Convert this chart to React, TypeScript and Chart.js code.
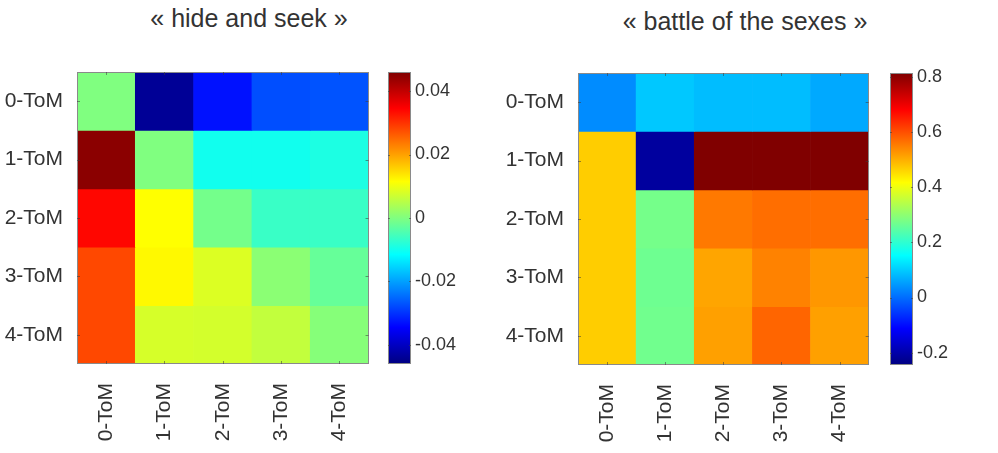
import React, { useEffect, useRef } from 'react';
import { Chart, registerables } from 'chart.js';

Chart.register(...registerables);

// ---------- data ----------
const tomLabels = ['0-ToM', '1-ToM', '2-ToM', '3-ToM', '4-ToM'];

// « hide and seek » : rows = 0-ToM..4-ToM (top to bottom), columns = 0-ToM..4-ToM
const hideSeekRow0 = [0.0, -0.044, -0.033, -0.0275, -0.027];
const hideSeekRow1 = [0.045, 0.0, -0.010, -0.010, -0.009];
const hideSeekRow2 = [0.034, 0.0115, -0.001, -0.0064, -0.0064];
const hideSeekRow3 = [0.028, 0.012, 0.0083, 0.001, -0.0023];
const hideSeekRow4 = [0.028, 0.0078, 0.0075, 0.006, 0.0006];
const hideSeekRows = [hideSeekRow0, hideSeekRow1, hideSeekRow2, hideSeekRow3, hideSeekRow4];
const hideSeekRange = [-0.046, 0.046];
const hideSeekTicks = [-0.04, -0.02, 0, 0.02, 0.04];

// « battle of the sexes »
const battleRow0 = [0.033, 0.095, 0.084, 0.084, 0.063];
const battleRow1 = [0.469, -0.213, 0.815, 0.815, 0.815];
const battleRow2 = [0.469, 0.274, 0.557, 0.568, 0.568];
const battleRow3 = [0.469, 0.267, 0.511, 0.547, 0.526];
const battleRow4 = [0.469, 0.27, 0.516, 0.578, 0.516];
const battleRows = [battleRow0, battleRow1, battleRow2, battleRow3, battleRow4];
const battleRange = [-0.245, 0.815];
const battleTicks = [-0.2, 0, 0.2, 0.4, 0.6, 0.8];

// ---------- helpers ----------
const FONT = "'Liberation Sans', Arial, Helvetica, sans-serif";
const TEXT = '#333333';
const FRAME = '#8a8a8a';

const clamp01 = (v: number) => Math.max(0, Math.min(1, v));
function jet(t: number): string {
  t = clamp01(t);
  const r = clamp01(1.5 - Math.abs(4 * t - 3));
  const g = clamp01(1.5 - Math.abs(4 * t - 2));
  const b = clamp01(1.5 - Math.abs(4 * t - 1));
  return `rgb(${Math.round(r * 255)},${Math.round(g * 255)},${Math.round(b * 255)})`;
}

function fmtTick(v: number, decimals: number): string {
  const n = parseFloat(v.toFixed(decimals));
  return n === 0 ? '0' : String(n);
}

type Area = { l: number; t: number; r: number; b: number };

function framePlugin(kind: 'heat' | 'bar', tickVals?: number[]) {
  return {
    id: 'frame-' + kind,
    afterDatasetsDraw(chart: any) {
      const { ctx, chartArea } = chart;
      const { left, top, right, bottom } = chartArea;
      ctx.save();
      ctx.strokeStyle = FRAME;
      ctx.lineWidth = 1;
      ctx.strokeRect(Math.round(left) + 0.5, Math.round(top) + 0.5, Math.round(right - left) - 1, Math.round(bottom - top) - 1);
      ctx.strokeStyle = 'rgba(60,60,60,0.55)';
      ctx.beginPath();
      const len = 3;
      if (kind === 'heat') {
        const xs = chart.scales.x;
        const ys = chart.scales.y;
        tomLabels.forEach((_, i) => {
          const px = Math.round(xs.getPixelForTick(i)) + 0.5;
          ctx.moveTo(px, top); ctx.lineTo(px, top + len);
          ctx.moveTo(px, bottom); ctx.lineTo(px, bottom - len);
          const py = Math.round(ys.getPixelForValue(i)) + 0.5;
          ctx.moveTo(left, py); ctx.lineTo(left + len, py);
          ctx.moveTo(right, py); ctx.lineTo(right - len, py);
        });
      } else if (tickVals) {
        const ys = chart.scales.y;
        tickVals.forEach((v) => {
          const py = Math.round(ys.getPixelForValue(v)) + 0.5;
          ctx.moveTo(left, py); ctx.lineTo(left + 2, py);
          ctx.moveTo(right, py); ctx.lineTo(right - 2, py);
        });
      }
      ctx.stroke();
      ctx.restore();
    },
  };
}

function HeatCanvas(props: { rows: number[][]; range: number[]; width: number; height: number; area: Area; left: number }) {
  const ref = useRef<HTMLCanvasElement>(null);
  useEffect(() => {
    const { rows, range, width, height, area } = props;
    const [mn, mx] = range;
    const chart = new Chart(ref.current as HTMLCanvasElement, {
      type: 'bar',
      data: {
        labels: tomLabels,
        datasets: rows.map((row, r) => ({
          label: tomLabels[r],
          data: row.map(() => [r - 0.5, r + 0.5]),
          backgroundColor: row.map((v) => jet((v - mn) / (mx - mn))),
          borderWidth: 0,
          barPercentage: 1,
          categoryPercentage: 1,
          grouped: false,
        })) as any,
      },
      options: {
        responsive: false,
        animation: false,
        events: [],
        layout: { padding: { left: 0, top: area.t, right: width - area.r, bottom: 0 } },
        plugins: { legend: { display: false }, tooltip: { enabled: false }, title: { display: false } },
        scales: {
          x: {
            type: 'category',
            grid: { display: false, drawTicks: false },
            border: { display: false },
            ticks: {
              autoSkip: false,
              minRotation: 90,
              maxRotation: 90,
              padding: 19,
              color: TEXT,
              font: { family: FONT, size: 21 },
            },
            afterFit: (s: any) => { s.height = height - area.b; },
          },
          y: {
            type: 'linear',
            min: -0.5,
            max: tomLabels.length - 0.5,
            reverse: true,
            grid: { display: false, drawTicks: false },
            border: { display: false },
            afterBuildTicks: (s: any) => { s.ticks = tomLabels.map((_, i) => ({ value: i })); },
            ticks: {
              padding: 14,
              color: TEXT,
              font: { family: FONT, size: 21 },
              callback: (v: any) => tomLabels[Number(v)] ?? '',
            },
            afterFit: (s: any) => { s.width = area.l; },
          },
        },
      } as any,
      plugins: [framePlugin('heat')],
    });
    return () => chart.destroy();
  }, []);
  return (
    <canvas
      ref={ref}
      width={props.width}
      height={props.height}
      style={{ position: 'absolute', left: props.left, top: 0, width: props.width, height: props.height }}
    />
  );
}

function ColorBarCanvas(props: { range: number[]; ticks: number[]; decimals: number; width: number; height: number; area: Area; left: number }) {
  const ref = useRef<HTMLCanvasElement>(null);
  useEffect(() => {
    const { range, ticks, decimals, width, height, area } = props;
    const [mn, mx] = range;
    const chart = new Chart(ref.current as HTMLCanvasElement, {
      type: 'bar',
      data: {
        labels: [''],
        datasets: [
          {
            data: [[mn, mx]],
            backgroundColor: (c: any) => {
              const ch = c.chart;
              if (!ch.chartArea) return '#888';
              const ys = ch.scales.y;
              const y0 = ys.getPixelForValue(mn);
              const y1 = ys.getPixelForValue(mx);
              const g = ch.ctx.createLinearGradient(0, y0, 0, y1);
              const n = 64;
              for (let i = 0; i <= n; i++) g.addColorStop(i / n, jet(i / n));
              return g;
            },
            borderWidth: 0,
            barPercentage: 1,
            categoryPercentage: 1,
          },
        ] as any,
      },
      options: {
        responsive: false,
        animation: false,
        events: [],
        layout: { padding: { left: area.l, top: area.t, right: 0, bottom: height - area.b } },
        plugins: { legend: { display: false }, tooltip: { enabled: false } },
        scales: {
          x: { display: false },
          y: {
            type: 'linear',
            position: 'right',
            min: mn,
            max: mx,
            grid: { display: false, drawTicks: false },
            border: { display: false },
            afterBuildTicks: (s: any) => { s.ticks = ticks.map((v) => ({ value: v })); },
            ticks: {
              padding: 4,
              color: TEXT,
              font: { family: FONT, size: 18 },
              callback: (v: any) => fmtTick(Number(v), decimals),
            },
            afterFit: (s: any) => { s.width = width - area.r; },
          },
        },
      } as any,
      plugins: [framePlugin('bar', ticks)],
    });
    return () => chart.destroy();
  }, []);
  return (
    <canvas
      ref={ref}
      width={props.width}
      height={props.height}
      style={{ position: 'absolute', left: props.left, top: 0, width: props.width, height: props.height }}
    />
  );
}

export default function App() {
  const H = 453;
  const titleStyle = (center: number, top: number): React.CSSProperties => ({
    position: 'absolute',
    left: center - 200,
    width: 400,
    top,
    textAlign: 'center',
    fontFamily: FONT,
    fontSize: 25,
    lineHeight: '25px',
    color: TEXT,
    whiteSpace: 'nowrap',
  });
  return (
    <div style={{ position: 'absolute', left: 0, top: 0, width: 998, height: H, background: '#fff', overflow: 'hidden' }}>
      <div style={titleStyle(249, 6)}>« hide and seek »</div>
      <div style={titleStyle(745, 9)}>« battle of the sexes »</div>
      <HeatCanvas rows={hideSeekRows} range={hideSeekRange} width={385} height={H} left={0} area={{ l: 77, t: 72, r: 371, b: 364 }} />
      <ColorBarCanvas range={hideSeekRange} ticks={hideSeekTicks} decimals={2} width={100} height={H} left={380} area={{ l: 8, t: 72, r: 31, b: 364 }} />
      <HeatCanvas rows={battleRows} range={battleRange} width={395} height={H} left={490} area={{ l: 88, t: 73, r: 383, b: 365 }} />
      <ColorBarCanvas range={battleRange} ticks={battleTicks} decimals={1} width={118} height={H} left={880} area={{ l: 10, t: 73, r: 33, b: 365 }} />
    </div>
  );
}
